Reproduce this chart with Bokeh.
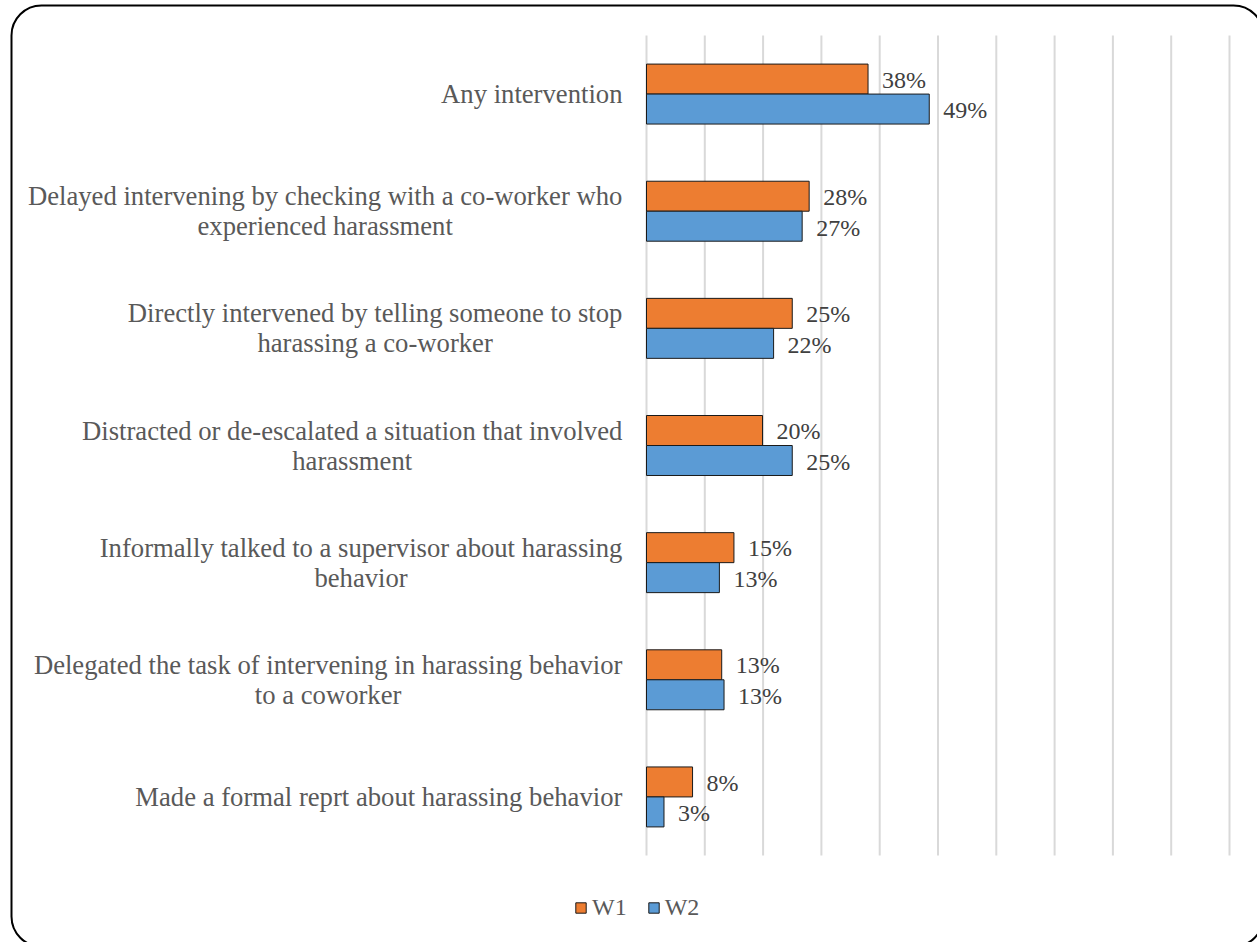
import glob
import struct
from bokeh.plotting import figure
from bokeh.models import (ColumnDataSource, Range1d, Legend, LegendItem, BoxAnnotation)
from bokeh.transform import dodge
from bokeh.core.properties import value
from bokeh.embed import file_html
from bokeh.resources import INLINE

categories = [
    "Any intervention",
    "Delayed intervening by checking with a co-worker who\nexperienced harassment",
    "Directly intervened by telling someone to stop\nharassing a co-worker",
    "Distracted or de-escalated a situation that involved\nharassment",
    "Informally talked to a supervisor about harassing\nbehavior",
    "Delegated the task of intervening in harassing behavior\nto a coworker",
    "Made a formal reprt about harassing behavior",
]
w1_values = [38.0, 27.9, 25.0, 19.9, 15.0, 12.9, 7.9]
w2_values = [48.5, 26.7, 21.8, 25.0, 12.5, 13.3, 3.0]
w1_labels = ["38%", "28%", "25%", "20%", "15%", "13%", "8%"]
w2_labels = ["49%", "27%", "22%", "25%", "13%", "13%", "3%"]
grid_ticks = [0, 10, 20, 30, 40, 50, 60, 70, 80, 90, 100]

FONT = "Liberation Serif"
ORANGE = "#ED7D31"
BLUE = "#5B9BD5"
CAT_SIZE = 26.67
LABEL_GAP = 24


def load_width_fn(fname="LiberationSerif-Regular.ttf"):
    paths = (glob.glob("/usr/share/fonts/**/" + fname, recursive=True)
             + glob.glob("/usr/local/share/fonts/**/" + fname, recursive=True))
    if not paths:
        return None
    data = open(paths[0], "rb").read()
    num = struct.unpack(">H", data[4:6])[0]
    tables = {}
    for i in range(num):
        tag, _cs, off, _ln = struct.unpack(">4sIII", data[12 + 16 * i:28 + 16 * i])
        tables[tag.decode("latin-1")] = off
    upem = struct.unpack(">H", data[tables["head"] + 18:tables["head"] + 20])[0]
    nhm = struct.unpack(">H", data[tables["hhea"] + 34:tables["hhea"] + 36])[0]
    hm = tables["hmtx"]
    adv = [struct.unpack(">H", data[hm + 4 * i:hm + 4 * i + 2])[0] for i in range(nhm)]
    cm = tables["cmap"]
    n = struct.unpack(">H", data[cm + 2:cm + 4])[0]
    sub = None
    for i in range(n):
        pid, eid, off = struct.unpack(">HHI", data[cm + 4 + 8 * i:cm + 12 + 8 * i])
        fmt = struct.unpack(">H", data[cm + off:cm + off + 2])[0]
        if pid == 3 and eid == 1 and fmt == 4:
            sub = cm + off
            break
    if sub is None:
        return None
    seg2 = struct.unpack(">H", data[sub + 6:sub + 8])[0]
    seg = seg2 // 2
    ends = struct.unpack(">%dH" % seg, data[sub + 14:sub + 14 + seg2])
    starts = struct.unpack(">%dH" % seg, data[sub + 16 + seg2:sub + 16 + 2 * seg2])
    deltas = struct.unpack(">%dh" % seg, data[sub + 16 + 2 * seg2:sub + 16 + 3 * seg2])
    ro_base = sub + 16 + 3 * seg2
    ros = struct.unpack(">%dH" % seg, data[ro_base:ro_base + seg2])

    def gid(c):
        for k in range(seg):
            if starts[k] <= c <= ends[k]:
                if ros[k] == 0:
                    return (c + deltas[k]) & 0xFFFF
                addr = ro_base + 2 * k + ros[k] + 2 * (c - starts[k])
                g = struct.unpack(">H", data[addr:addr + 2])[0]
                return (g + deltas[k]) & 0xFFFF if g else 0
        return 0

    def width(s, size):
        tot = 0
        for ch in s:
            g = gid(ord(ch))
            tot += adv[min(g, nhm - 1)]
        return tot * size / upem
    return width


try:
    _wfn = load_width_fn()
except Exception:
    _wfn = None


def text_width(s, size):
    if _wfn is not None:
        return _wfn(s, size)
    return len(s) * 0.45 * size


n = len(categories)
ypos = [-i for i in range(n)]
cat_offsets = [-(LABEL_GAP + max(text_width(line, CAT_SIZE) for line in c.split("\n")) / 2)
               for c in categories]

src = ColumnDataSource(dict(y=ypos, cat=categories, w1=w1_values, w2=w2_values,
                            l1=w1_labels, l2=w2_labels, xo=cat_offsets,
                            zero=[0] * n))

W, H = 1257, 942
x0_px, x100_px = 646, 1229
top_px, bottom_px = 35, 855
ppu_x = (x100_px - x0_px) / 100.0
ppu_y = (bottom_px - top_px) / n

p = figure(width=W, height=H, output_backend="svg", toolbar_location=None,
           x_range=Range1d(-x0_px / ppu_x, (W - x0_px) / ppu_x),
           y_range=Range1d(-(n - 0.5) - (H - bottom_px) / ppu_y, 0.5 + top_px / ppu_y),
           min_border=0)
p.outline_line_color = None
p.background_fill_color = "white"
p.border_fill_color = "white"
p.axis.visible = False
p.grid.visible = False

# gridlines
p.segment(x0=grid_ticks, x1=grid_ticks, y0=[0.5] * len(grid_ticks),
          y1=[-(n - 0.5)] * len(grid_ticks), line_color="#D9D9D9", line_width=2)

r1 = p.hbar(y=dodge("y", 0.128), right="w1", left=0, height=0.256,
            source=src, fill_color=ORANGE, line_color="#1a1a1a", line_width=1)
r2 = p.hbar(y=dodge("y", -0.128), right="w2", left=0, height=0.256,
            source=src, fill_color=BLUE, line_color="#1a1a1a", line_width=1)

p.text(x="w1", y=dodge("y", 0.122), text="l1", source=src,
       x_offset=14, text_align="left", text_baseline="middle",
       text_font=value(FONT), text_font_size="24px", text_color="#404040")
p.text(x="w2", y=dodge("y", -0.14), text="l2", source=src,
       x_offset=14, text_align="left", text_baseline="middle",
       text_font=value(FONT), text_font_size="24px", text_color="#404040")

# category labels (lines centred on each other, block right-aligned)
p.text(x="zero", y="y", text="cat", source=src, x_offset="xo",
       text_align="center", text_baseline="middle", text_line_height=1.0,
       text_font=value(FONT), text_font_size="%.2fpx" % CAT_SIZE, text_color="#595959")

legend = Legend(items=[LegendItem(label="W1", renderers=[r1]),
                       LegendItem(label="W2", renderers=[r2])],
                orientation="horizontal", location=(574, 21),
                glyph_width=13, glyph_height=13, label_standoff=5, spacing=20,
                padding=0, margin=0, border_line_color=None,
                background_fill_alpha=0,
                label_text_font=FONT, label_text_font_size="24px",
                label_text_color="#595959")
p.add_layout(legend, "center")

frame_box = BoxAnnotation(left=11, right=1263, top=5, bottom=946,
                          left_units="canvas", right_units="canvas",
                          top_units="canvas", bottom_units="canvas",
                          fill_color=None, fill_alpha=0,
                          line_color="black", line_alpha=1.0, line_width=2,
                          border_radius=30)
p.add_layout(frame_box)

open("out.html", "w").write(file_html(p, INLINE))
